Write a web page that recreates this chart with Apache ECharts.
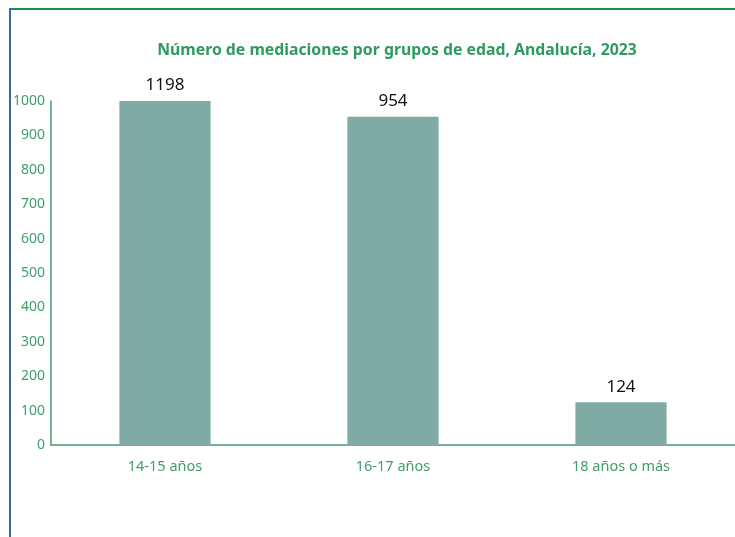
<!DOCTYPE html>
<html>
<head>
<meta charset="utf-8">
<script src="https://cdn.jsdelivr.net/npm/echarts@6/dist/echarts.min.js"></script>
<style>
html,body{margin:0;padding:0;background:#fff;}
#chart{width:735px;height:537px;}
</style>
</head>
<body>
<div id="chart"></div>
<script>
var categories = ['14-15 años', '16-17 años', '18 años o más'];
var values = [1198, 954, 124];
var yTicks = [0, 100, 200, 300, 400, 500, 600, 700, 800, 900, 1000];
var titleText = 'Número de mediaciones por grupos de edad, Andalucía, 2023';

var axisMax = yTicks[yTicks.length - 1];
var green = '#3f9e6c';
var font = '"Noto Sans", "Open Sans", sans-serif';

var chart = echarts.init(document.getElementById('chart'));
chart.setOption({
  animation: false,
  backgroundColor: '#fff',
  title: {
    text: titleText,
    left: 392,
    textAlign: 'center',
    top: 37,
    textStyle: {color: '#2f9a5e', fontSize: 15.8, fontWeight: 'bold', fontFamily: font}
  },
  grid: {left: 51, right: 0, top: 101, bottom: 92, containLabel: false},
  xAxis: {
    type: 'category',
    data: categories,
    axisLine: {show: true, lineStyle: {color: green, width: 1.5}},
    axisTick: {show: false},
    axisLabel: {color: green, fontSize: 14.5, fontFamily: font, margin: 14}
  },
  yAxis: {
    type: 'value',
    min: 0,
    max: axisMax,
    interval: 100,
    axisLine: {show: true, lineStyle: {color: green, width: 1.5}},
    axisTick: {show: false},
    splitLine: {show: false},
    axisLabel: {color: green, fontSize: 14, fontFamily: font, margin: 6,
      formatter: function (v) { return String(v); }}
  },
  series: [{
    type: 'bar',
    barWidth: '40%',
    itemStyle: {color: '#80aba5'},
    data: values.map(function (v) { return Math.min(v, axisMax); }),
    label: {
      show: true,
      position: 'top',
      distance: 7,
      color: '#111',
      fontSize: 17,
      fontFamily: font,
      formatter: function (p) { return String(values[p.dataIndex]); }
    }
  }],
  graphic: [
    {type: 'line', shape: {x1: 9, y1: 9, x2: 735, y2: 9}, style: {stroke: '#1f8f4f', lineWidth: 2}},
    {type: 'line', shape: {x1: 10, y1: 8, x2: 10, y2: 537}, style: {stroke: '#3b66a0', lineWidth: 2}}
  ]
});
</script>
</body>
</html>
